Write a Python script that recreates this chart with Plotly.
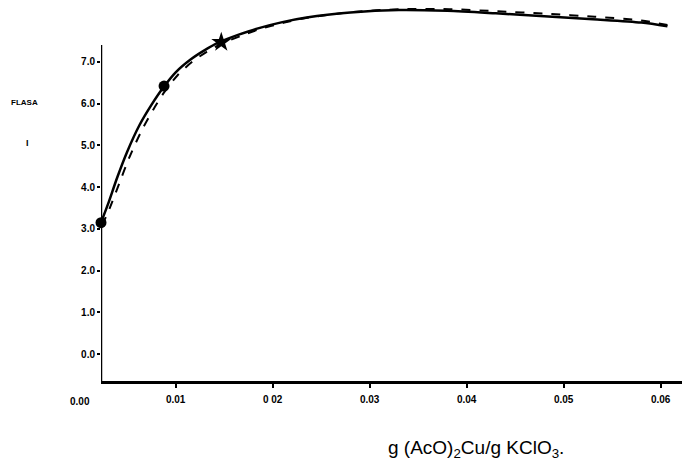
import plotly.graph_objects as go

# Data
x_solid = [0.0023, 0.0030, 0.0040, 0.0050, 0.0063, 0.0075, 0.0087, 0.0100, 0.0115, 0.0130, 0.0145, 0.0165, 0.0183, 0.0210, 0.0235, 0.0280, 0.0330, 0.0380, 0.0430, 0.0480, 0.0530, 0.0580, 0.0607]
y_solid = [3.15, 3.58, 4.25, 4.85, 5.50, 5.97, 6.38, 6.75, 7.05, 7.28, 7.47, 7.65, 7.79, 7.95, 8.06, 8.18, 8.24, 8.22, 8.16, 8.09, 8.02, 7.94, 7.85]
x_dash = [0.0024, 0.0032, 0.0042, 0.0052, 0.0065, 0.0077, 0.0089, 0.0102, 0.0117, 0.0132, 0.0147, 0.0167, 0.0185, 0.0212, 0.0237, 0.0282, 0.0332, 0.0382, 0.0432, 0.0482, 0.0532, 0.0580, 0.0607]
y_dash = [3.08, 3.50, 4.10, 4.70, 5.36, 5.86, 6.30, 6.68, 7.00, 7.24, 7.43, 7.62, 7.77, 7.94, 8.06, 8.19, 8.26, 8.26, 8.21, 8.15, 8.08, 7.99, 7.88]
pts_x = [0.0023, 0.0088]
pts_y = [3.15, 6.42]
star_x = [0.0147]
star_y = [7.47]
yticks = [0, 1, 2, 3, 4, 5, 6, 7]
ytick_text = ["0.0", "1.0", "2.0", "3.0", "4.0", "5.0", "6.0", "7.0"]
xticks = [0.01, 0.02, 0.03, 0.04, 0.05, 0.06]
xtick_text = ["0.01", "0 02", "0.03", "0.04", "0.05", "0.06"]
x_origin_label = "0.00"
x_title = "g (AcO)<sub>2</sub>Cu/g KClO<sub>3</sub>."
y_title_1 = "FLASA"
y_title_2 = "I"

X0 = 0.0023
YB = -0.64
YT = 7.4
FONT = "Liberation Sans, Arial"

fig = go.Figure()
fig.add_trace(go.Scatter(x=x_dash, y=y_dash, mode="lines",
                         line=dict(color="black", width=2, dash="dash", shape="spline", smoothing=0.8),
                         showlegend=False))
fig.add_trace(go.Scatter(x=x_solid, y=y_solid, mode="lines",
                         line=dict(color="black", width=2.5, shape="spline", smoothing=0.8),
                         showlegend=False))
fig.add_trace(go.Scatter(x=pts_x, y=pts_y, mode="markers",
                         marker=dict(color="black", size=11, symbol="circle"),
                         showlegend=False, cliponaxis=False))
fig.add_trace(go.Scatter(x=star_x, y=star_y, mode="markers",
                         marker=dict(color="black", size=15, symbol="star"),
                         showlegend=False, cliponaxis=False))

# y axis line
fig.add_shape(type="line", xref="x", yref="y", x0=X0, x1=X0, y0=YB, y1=YT,
              line=dict(color="black", width=2.5))

tickfont = dict(family=FONT, size=10, color="black", weight="bold")

fig.update_xaxes(range=[X0, 0.0622], showline=True, linecolor="black", linewidth=2.5,
                 ticks="outside", ticklen=4, tickwidth=1.5, tickcolor="black",
                 tickvals=xticks, ticktext=xtick_text, tickfont=tickfont,
                 ticklabelstandoff=3,
                 showgrid=False, zeroline=False, mirror=False)
fig.update_yaxes(range=[YB, 8.48], showline=False,
                 ticks="outside", ticklen=3, tickwidth=1.5, tickcolor="black",
                 tickvals=yticks, ticktext=ytick_text, tickfont=tickfont,
                 showgrid=False, zeroline=False)

fig.add_annotation(x=0, y=0, xref="paper", yref="paper", xanchor="center", yanchor="middle",
                   xshift=-21, yshift=-20,
                   text="<b>" + x_origin_label + "</b>",
                   showarrow=False, font=dict(family=FONT, size=10, color="black"))
fig.add_annotation(x=0.041, y=0, xref="x", yref="paper", xanchor="center", yanchor="middle",
                   yshift=-68, text=x_title,
                   showarrow=False, font=dict(family=FONT, size=19, color="black"))
fig.add_annotation(xref="paper", yref="paper", x=0, y=1, xanchor="center", yanchor="middle",
                   xshift=-77, yshift=-102, text="<b>" + y_title_1 + "</b>", showarrow=False,
                   font=dict(family=FONT, size=8, color="black"))
fig.add_annotation(xref="paper", yref="paper", x=0, y=1, xanchor="center", yanchor="middle",
                   xshift=-74, yshift=-143, text="<b>" + y_title_2 + "</b>", showarrow=False,
                   font=dict(family=FONT, size=9, color="black"))

fig.update_layout(width=682, height=467,
                  margin=dict(l=101, r=0, t=0, b=86),
                  paper_bgcolor="white", plot_bgcolor="white")

fig.write_html("out.html")
